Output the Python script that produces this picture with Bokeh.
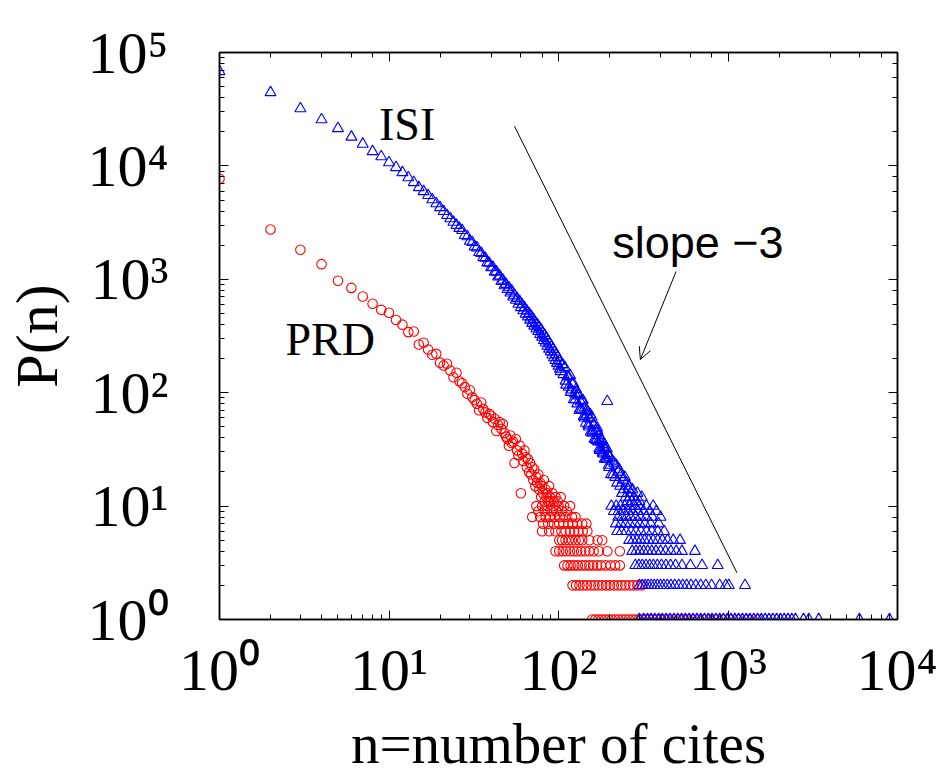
from bokeh.plotting import figure
from bokeh.models import Label, LogAxis, Arrow, OpenHead, CustomJSTickFormatter
from bokeh.embed import file_html
from bokeh.resources import INLINE

# ---------------- data ----------------
# ISI (blue triangles): n = number of cites, P(n)
isi_n_head = list(range(1, 101))
isi_p_head = [68000, 44400, 32000, 25600, 21400, 18000, 15600, 13400, 12100, 10700,
              9700, 8750, 7900, 7150, 6450, 5950, 5500, 5050, 4650, 4300,
              3980, 3670, 3430, 3200, 3000, 2820, 2700, 2440, 2380, 2170,
              2120, 1940, 1900, 1730, 1700, 1560, 1540, 1400, 1390, 1270,
              1280, 1160, 1170, 1050, 1070, 960, 985, 880, 905, 815,
              845, 760, 790, 700, 725, 655, 680, 605, 640, 565,
              598, 530, 562, 495, 528, 468, 497, 438, 470, 410,
              445, 388, 418, 366, 398, 348, 377, 327, 358, 310,
              335, 290, 320, 275, 302, 258, 285, 243, 270, 230,
              254, 216, 242, 204, 229, 193, 218, 182, 206, 172]
isi_n_mid = [101, 103, 105, 107, 109, 111, 113, 115, 117, 119, 121, 123, 125, 127, 129,
             131, 133, 135, 137, 139, 141, 143, 145, 147, 149, 151, 153, 155, 157, 159,
             161, 163, 165, 167, 169, 171, 173, 175, 177, 179, 181, 183, 185, 187, 189,
             191, 193, 195, 197, 199,
             102, 106, 110, 114, 118, 122, 126, 130, 134, 138, 142, 146, 150, 154, 158,
             162, 166, 170, 174, 178, 182, 186, 190, 196, 198, 194]
isi_p_mid = [190, 154, 178, 145, 167, 117, 138, 112, 142, 106, 118, 87, 98, 107, 80,
             94, 70, 83, 71, 86, 62, 74, 54, 64, 68, 50, 59, 45, 61, 46,
             52, 39, 46, 38, 49, 37, 42, 31, 37, 31, 38, 29, 33, 26, 32,
             26, 32, 26, 28, 22,
             162, 176, 127, 140, 101, 121, 87, 97, 72, 85, 60, 69, 52, 64, 44,
             52, 39, 46, 32, 39, 30, 35, 26, 29, 23, 84]
isi_n_low = [201, 204, 207, 210, 213, 216, 219, 222, 225, 228, 231, 234, 237, 240, 243,
             246, 249, 252, 255, 258, 261, 264, 267, 270, 273, 279, 285, 292, 300, 310]
isi_p_low = [27, 19, 25, 19, 24, 18, 23, 16, 20, 21, 15, 19, 13, 17, 14,
             18, 12, 16, 11, 14, 15, 12, 13, 11, 14, 12, 11, 13, 11, 12]
# tail: values of n at which P(n) is a small integer
isi_n_at_10 = [205, 219, 232, 246, 263, 281, 300, 330, 362]
isi_n_at_9 = [212, 226, 241, 258, 274, 295, 318, 345, 378]
isi_n_at_8 = [225, 238, 252, 267, 285, 304, 329, 357, 400]
isi_n_at_7 = [218, 233, 248, 264, 283, 301, 323, 350, 390]
isi_n_at_6 = [222, 236, 250, 268, 286, 306, 330, 355, 385, 420]
isi_n_at_5 = [261, 275, 290, 305, 322, 340, 362, 385, 410, 440, 475, 521]
isi_n_at_4 = [272, 287, 302, 318, 336, 355, 376, 400, 428, 460, 495, 535, 638]
isi_n_at_3 = [284, 298, 312, 328, 345, 363, 383, 405, 430, 458, 490, 535, 600, 703, 870]
isi_n_at_2 = [300, 312, 325, 338, 352, 367, 383, 400, 418, 438, 460, 485, 512, 540, 570,
              605, 645, 690, 740, 800, 893, 970, 1011, 1260]
isi_n_at_1 = [300, 318, 335, 352, 370, 390, 410, 432, 455, 480, 505, 532, 560, 590, 622,
              655, 690, 727, 765, 805, 848, 893, 940, 990, 1042, 1097, 1155, 1216, 1280,
              1348, 1420, 1495, 1574, 1657, 1745, 1838, 1935, 2037, 2145, 2258, 2378,
              2500, 2790, 3000, 3430, 5960, 8970]

# PRD (red circles)
prd_n_head = list(range(1, 91)) + [92, 94, 96, 99, 103]
prd_p_head = [7700, 2750, 1820, 1360, 970, 840, 705, 608, 538, 507,
              437, 398, 342, 347, 266, 276, 240, 216, 220, 184,
              174, 180, 157, 137, 150, 126, 121, 112, 98, 105,
              91, 86, 80, 70, 82, 72, 67, 60, 65, 63,
              55, 59, 46, 52, 55, 48, 53, 44, 41, 39,
              34, 42, 36, 37, 24, 39, 31, 28, 34, 13,
              29, 25, 31, 27, 22, 26, 20, 24, 19, 22,
              17, 21, 15, 18, 16, 19, 14, 16, 12, 15,
              13, 17, 11, 14, 12, 13, 11, 15, 12, 11,
              13, 11, 12, 11, 12]
prd_n_at_10 = [74, 80, 86, 93, 100, 108, 117]
prd_n_at_9 = [76, 83, 91, 97, 105, 112]
prd_n_at_8 = [70, 78, 84, 89, 95, 102, 110, 120, 126]
prd_n_at_7 = [81, 87, 94, 101, 107, 114, 121, 129, 138, 146]
prd_n_at_6 = [80, 88, 96, 104, 110, 117, 124, 131, 139, 148]
prd_n_at_5 = [101, 105, 110, 115, 120, 126, 132, 138, 152, 170, 181]
prd_n_at_4 = [96, 101, 106, 111, 117, 123, 129, 136, 144, 152, 161, 173, 194, 230]
prd_n_at_3 = [108, 113, 118, 124, 130, 137, 144, 152, 160, 169, 178, 190, 203, 216, 230]
prd_n_at_2 = [121, 127, 133, 140, 147, 155, 163, 172, 181, 191, 201, 212, 223, 235, 248,
              262, 276, 292, 310]
prd_n_at_1 = [158, 165, 172, 180, 188, 197, 206, 216, 226, 237, 248, 260, 272, 285, 298,
              312, 327, 343, 360, 378, 400, 425, 450, 480, 510, 545, 580, 620, 665, 720,
              780, 850, 930, 1020, 1150, 1300, 1500]

# guide line of slope -3
slope_n = [55, 1130]
slope_p = [22360, 2.58]

# tick labels
x_tick_values = [1, 10, 100, 1000, 10000]
x_tick_labels = ["10\u2070", "10\u00b9", "10\u00b2", "10\u00b3", "10\u2074"]
y_tick_values = [1, 10, 100, 1000, 10000, 100000]
y_tick_labels = ["10\u2070", "10\u00b9", "10\u00b2", "10\u00b3", "10\u2074", "10\u2075"]

# ---------------- assemble ----------------
def tail(levels):
    xs, ys = [], []
    for lev, ns in levels:
        xs += ns
        ys += [lev] * len(ns)
    return xs, ys

isi_tail_x, isi_tail_y = tail([(10, isi_n_at_10), (9, isi_n_at_9), (8, isi_n_at_8), (7, isi_n_at_7),
                               (6, isi_n_at_6), (5, isi_n_at_5), (4, isi_n_at_4), (3, isi_n_at_3),
                               (2, isi_n_at_2), (1, isi_n_at_1)])
prd_tail_x, prd_tail_y = tail([(10, prd_n_at_10), (9, prd_n_at_9), (8, prd_n_at_8), (7, prd_n_at_7),
                               (6, prd_n_at_6), (5, prd_n_at_5), (4, prd_n_at_4), (3, prd_n_at_3),
                               (2, prd_n_at_2), (1, prd_n_at_1)])
isi_x = isi_n_head + isi_n_mid + isi_n_low + isi_tail_x
isi_y = isi_p_head + isi_p_mid + isi_p_low + isi_tail_y
prd_x = prd_n_head + prd_tail_x
prd_y = prd_p_head + prd_tail_y

SERIF = "Liberation Serif"
SANS = "Liberation Sans"

p = figure(width=937, height=779, x_axis_type="log", y_axis_type="log",
           x_range=(1, 1e4), y_range=(1, 1e5),
           output_backend="svg", toolbar_location=None,
           min_border_left=216, min_border_right=40, min_border_top=52, min_border_bottom=160)
p.xgrid.visible = False
p.ygrid.visible = False
p.outline_line_color = "black"
p.outline_line_width = 1.5
p.background_fill_color = "white"
p.border_fill_color = "white"

p.add_layout(LogAxis(), "above")
p.add_layout(LogAxis(), "right")
for ax in p.xaxis + p.yaxis:
    ax.major_tick_in = 9
    ax.major_tick_out = 0
    ax.minor_tick_in = 5
    ax.minor_tick_out = 0
    ax.axis_line_color = "black"
    ax.axis_line_width = 1.5
    ax.major_tick_line_color = "black"
    ax.minor_tick_line_color = "black"
    ax.major_tick_line_width = 1
    ax.minor_tick_line_width = 1
    ax.major_label_text_font = SERIF
    ax.major_label_text_font_size = "60px"
    ax.major_label_text_color = "black"
    ax.axis_label_text_font = SERIF
    ax.axis_label_text_font_style = "normal"
    ax.axis_label_text_color = "black"

# top and right axes: ticks only
p.above[0].formatter = CustomJSTickFormatter(code="return ''")
p.right[0].formatter = CustomJSTickFormatter(code="return ''")

xa = p.below[0]
xa.major_label_overrides = dict(zip(x_tick_values, x_tick_labels))
xa.major_label_standoff = 17
xa.axis_label = "n=number of cites"
xa.axis_label_text_font_size = "57px"
xa.axis_label_standoff = 6

ya = p.left[0]
ya.major_label_overrides = dict(zip(y_tick_values, y_tick_labels))
ya.major_label_standoff = 51
ya.axis_label = "P(n)"
ya.axis_label_text_font_size = "60px"
ya.axis_label_standoff = 15

p.scatter(prd_x, prd_y, marker="circle", size=9.5, line_color="#ff0000",
          fill_color=None, line_width=1.1)
p.scatter(isi_x, isi_y, marker="triangle", size=11, line_color="#0000ff",
          fill_color=None, line_width=1.1)

p.line(slope_n, slope_p, line_color="black", line_width=1)
p.add_layout(Arrow(end=OpenHead(size=12, line_width=1, line_color="black"),
                   x_start=494, y_start=1172, x_end=304, y_end=196,
                   line_width=1, line_color="black"))

# in-plot annotations
p.add_layout(Label(x=9.47, y=17100, text="ISI", x_offset=-6, y_offset=15,
                   text_align="left", text_baseline="alphabetic",
                   text_font=SERIF, text_font_size="46px", text_color="black"))
p.add_layout(Label(x=2.62, y=217, text="PRD", x_offset=-5, y_offset=15,
                   text_align="left", text_baseline="alphabetic",
                   text_font=SERIF, text_font_size="46px", text_color="black"))
p.add_layout(Label(x=213, y=1556, text="slope \u22123", x_offset=-2, y_offset=15,
                   text_align="left", text_baseline="alphabetic",
                   text_font=SANS, text_font_size="45px", text_color="black"))

open("out.html", "w").write(file_html(p, INLINE))
